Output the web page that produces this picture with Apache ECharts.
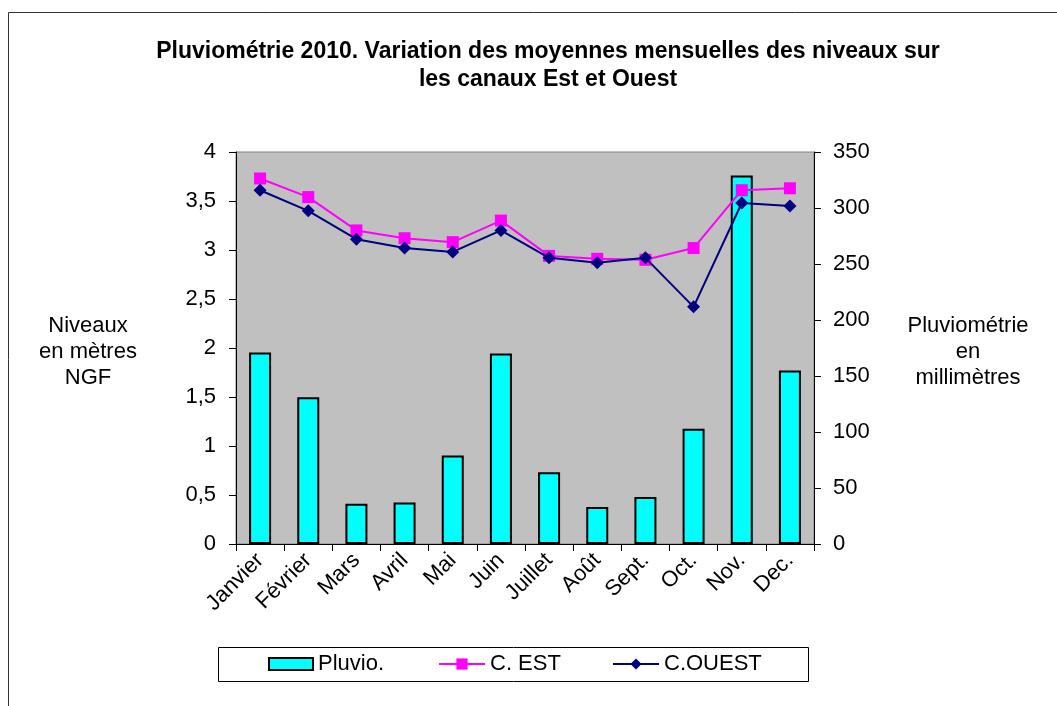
<!DOCTYPE html>
<html>
<head>
<meta charset="utf-8">
<script src="https://cdn.jsdelivr.net/npm/echarts@6/dist/echarts.min.js"></script>
<style>
  html, body { margin: 0; padding: 0; background: #fff; }
  #chart { width: 1057px; height: 706px; }
</style>
</head>
<body>
<div id="chart"></div>
<script>
  // mois
  var months = ['Janvier', 'Février', 'Mars', 'Avril', 'Mai', 'Juin', 'Juillet', 'Août', 'Sept.', 'Oct.', 'Nov.', 'Dec.']
  // pluviométrie en mm (axe de droite)
  var pluvio = [171, 131, 36, 37, 79, 170, 64, 33, 42, 103, 329, 155]
  // niveaux en m NGF (axe de gauche)
  var cEst = [3.73, 3.54, 3.20, 3.12, 3.08, 3.30, 2.94, 2.91, 2.90, 3.02, 3.61, 3.63]
  var cOuest = [3.61, 3.40, 3.11, 3.02, 2.98, 3.20, 2.92, 2.87, 2.92, 2.42, 3.48, 3.45]

  var font = "'Liberation Sans', Arial, sans-serif"
  var chart = echarts.init(document.getElementById('chart'))

  chart.setOption({
    animation: false,
    backgroundColor: '#fff',
    textStyle: { fontFamily: font, color: '#000' },
    grid: {
      left: 236,
      right: 243,
      top: 152,
      bottom: 162,
      show: true,
      backgroundColor: '#C0C0C0',
      borderColor: '#808080',
      borderWidth: 1
    },
    graphic: [
      {
        type: 'rect',
        silent: true,
        shape: { x: 8.5, y: 12.5, width: 1200, height: 900 },
        style: { fill: 'none', stroke: '#333', lineWidth: 1 }
      },
      {
        type: 'text',
        silent: true,
        style: {
          x: 548, y: 66,
          text: 'Pluviométrie 2010. Variation des moyennes mensuelles des niveaux sur\nles canaux Est et Ouest',
          font: 'bold 23px ' + font,
          textAlign: 'center',
          textVerticalAlign: 'middle',
          lineHeight: 28,
          fill: '#000'
        }
      },
      {
        type: 'text',
        silent: true,
        style: {
          x: 88, y: 352,
          text: 'Niveaux\nen mètres\nNGF',
          font: '22px ' + font,
          textAlign: 'center',
          textVerticalAlign: 'middle',
          lineHeight: 26,
          fill: '#000'
        }
      },
      {
        type: 'text',
        silent: true,
        style: {
          x: 968, y: 352,
          text: 'Pluviométrie\nen\nmillimètres',
          font: '22px ' + font,
          textAlign: 'center',
          textVerticalAlign: 'middle',
          lineHeight: 26,
          fill: '#000'
        }
      },
      {
        type: 'rect',
        silent: true,
        shape: { x: 218.5, y: 647.5, width: 590, height: 34 },
        style: { fill: '#fff', stroke: '#000', lineWidth: 1 }
      }
    ],
    legend: [
      {
        data: ['Pluvio.'],
        left: 268, top: 653, padding: 0,
        itemWidth: 44, itemHeight: 12,
        icon: 'rect',
        textStyle: { fontSize: 22, fontFamily: font, color: '#000' }
      },
      {
        data: ['C. EST'],
        left: 438, top: 653, padding: 0,
        itemWidth: 46, itemHeight: 14,
        textStyle: { fontSize: 22, fontFamily: font, color: '#000' }
      },
      {
        data: ['C.OUEST'],
        left: 612, top: 653, padding: 0,
        itemWidth: 46, itemHeight: 14,
        textStyle: { fontSize: 22, fontFamily: font, color: '#000' }
      }
    ],
    xAxis: {
      type: 'category',
      data: months,
      axisLine: { lineStyle: { color: '#000', width: 1 } },
      axisTick: { show: true, length: 7, lineStyle: { color: '#000' } },
      axisLabel: {
        rotate: 45,
        margin: 13,
        fontSize: 22,
        fontFamily: font,
        color: '#000',
        interval: 0
      },
      splitLine: { show: false }
    },
    yAxis: [
      {
        type: 'value',
        min: 0,
        max: 4,
        interval: 0.5,
        position: 'left',
        axisLine: { show: true, lineStyle: { color: '#000' } },
        axisTick: { show: true, length: 7, lineStyle: { color: '#000' } },
        axisLabel: {
          margin: 20,
          fontSize: 22,
          fontFamily: font,
          color: '#000',
          formatter: function (v) { return String(v).replace('.', ',') }
        },
        splitLine: { show: false }
      },
      {
        type: 'value',
        min: 0,
        max: 350,
        interval: 50,
        position: 'right',
        axisLine: { show: true, lineStyle: { color: '#000' } },
        axisTick: { show: true, length: 7, lineStyle: { color: '#000' } },
        axisLabel: { margin: 19, fontSize: 22, fontFamily: font, color: '#000' },
        splitLine: { show: false }
      }
    ],
    series: [
      {
        name: 'Pluvio.',
        type: 'bar',
        yAxisIndex: 1,
        data: pluvio,
        barWidth: 22,
        itemStyle: { color: '#00FFFF', borderColor: '#000', borderWidth: 2 },
        z: 2
      },
      {
        name: 'C. EST',
        type: 'line',
        yAxisIndex: 0,
        data: cEst,
        symbol: 'rect',
        symbolSize: 12,
        lineStyle: { color: '#FF00FF', width: 2 },
        itemStyle: { color: '#FF00FF' },
        z: 3
      },
      {
        name: 'C.OUEST',
        type: 'line',
        yAxisIndex: 0,
        data: cOuest,
        symbol: 'diamond',
        symbolSize: 13,
        lineStyle: { color: '#000080', width: 2 },
        itemStyle: { color: '#000080' },
        z: 4
      }
    ]
  })
</script>
</body>
</html>
